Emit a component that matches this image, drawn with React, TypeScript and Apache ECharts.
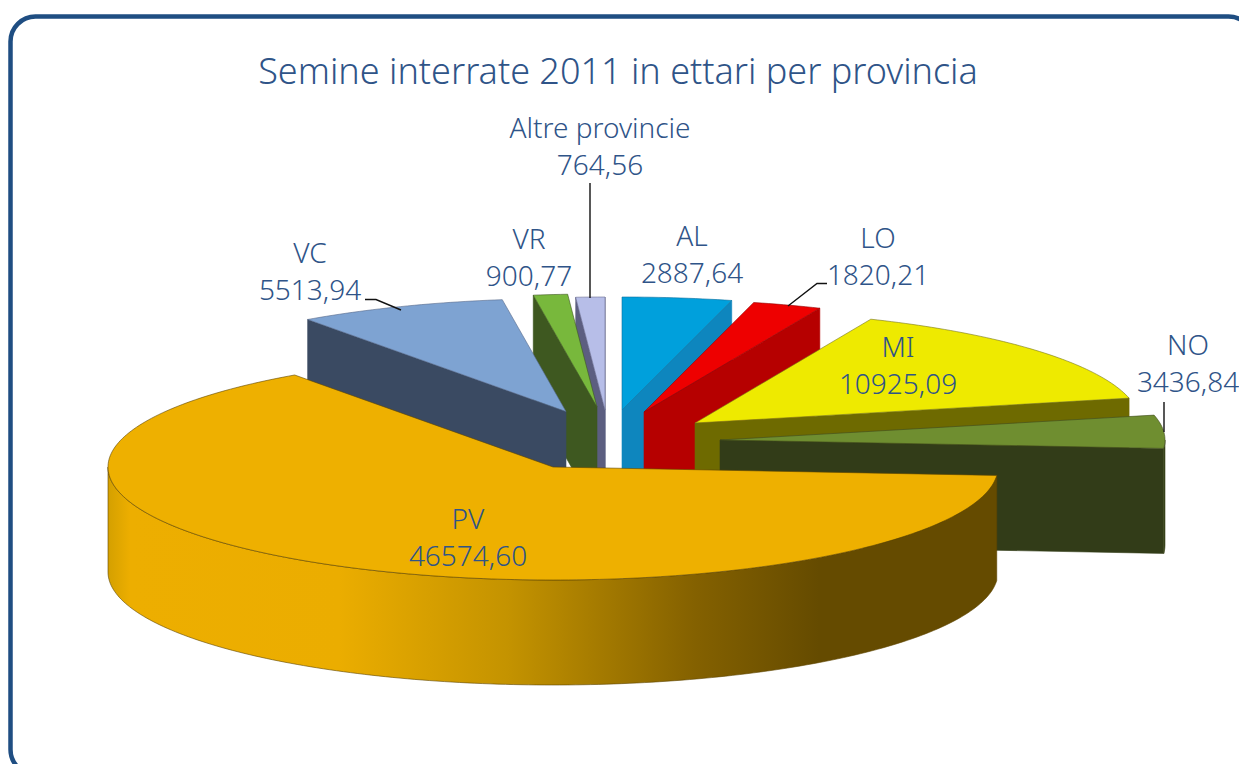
import React, { useEffect, useRef } from "react";
import * as echarts from "echarts";

// ---- data (clockwise from 12 o'clock) ----
const names = ["AL", "LO", "MI", "NO", "PV", "VC", "VR", "Altre provincie"];
const values = [2887.64, 1820.21, 10925.09, 3436.84, 46574.6, 5513.94, 900.77, 764.56];
const title = "Semine interrate 2011 in ettari per provincia";

// ---- styling / layout ----
const topColors = ["#00A0DC", "#EE0000", "#EEEA00", "#6F8E30", "#EEB000", "#7EA3D2", "#78B83C", "#B7BEE8"];
const wallColors = ["#0E86BE", "#B60000", "#6E6A00", "#323C18", "#8A6800", "#3A4A62", "#3E5820", "#5C5E80"];
const edgeColors = ["#0A6E9E", "#900000", "#77761A", "#3F4A1E", "#5E4500", "#55688A", "#3E5820", "#6A6C90"];
const explodeX = [16.4, 38.4, 89.4, 114.4, -52.6, -39.6, -8.6, -0.6];
const explodeY = [-33.5, -31.5, -20.5, -3.5, 23.5, -32, -36.5, -33.5];
const drawOrder = [0, 7, 6, 5, 1, 2, 3, 4];
const labelX = [692, 878, 898, 1188, 468, 310, 529, 600];
const labelY = [253, 255, 364, 362, 536, 270, 256, 145];
const leaders: number[][][] = [
  [],
  [[827, 283.5], [817, 283.5], [788, 306]],
  [],
  [[1164, 402], [1164, 432]],
  [],
  [[365, 299.5], [376, 299.5], [401, 310]],
  [],
  [[590, 183], [590, 298]],
];
const CX = 605.6;
const CY = 443.5;
const RX = 445;
const RY = 113;
const DEPTH = 105;
const FONT = '"Noto Sans", sans-serif';
const TEXT = "#2F5488";

const total = values.reduce((a, b) => a + b, 0);
const startDeg = values.map((_, i) => (values.slice(0, i).reduce((a, b) => a + b, 0) / total) * 360);

function rim(ax: number, ay: number, deg: number, drop = 0): number[] {
  const t = (deg * Math.PI) / 180;
  return [ax + RX * Math.sin(t), ay - RY * Math.cos(t) + drop];
}
function arc(ax: number, ay: number, from: number, to: number, drop = 0): number[][] {
  const n = Math.max(2, Math.ceil(to - from) + 1);
  const out: number[][] = [];
  for (let k = 0; k < n; k++) out.push(rim(ax, ay, from + ((to - from) * k) / (n - 1), drop));
  return out;
}

function renderSlice(_params: any, api: any) {
  const i = api.value(0);
  const v = api.value(1);
  const s = startDeg[i];
  const e = s + (v / total) * 360;
  const ax = CX + explodeX[i];
  const ay = CY + explodeY[i];
  const children: any[] = [];
  const wall = (pts: number[][], fill: any, stroke: string) => ({
    type: "polygon",
    shape: { points: pts },
    style: { fill, stroke, lineWidth: 0.6 },
  });
  const sinS = Math.sin((s * Math.PI) / 180);
  const sinE = Math.sin((e * Math.PI) / 180);
  if (sinS < 0) {
    const p = rim(ax, ay, s);
    children.push(wall([[ax, ay], p, [p[0], p[1] + DEPTH], [ax, ay + DEPTH]], wallColors[i], wallColors[i]));
  }
  if (sinE > 0) {
    const p = rim(ax, ay, e);
    children.push(wall([[ax, ay], p, [p[0], p[1] + DEPTH], [ax, ay + DEPTH]], wallColors[i], wallColors[i]));
  }
  const f = Math.max(s, 90);
  const t = Math.min(e, 270);
  if (t > f) {
    const pts = [...arc(ax, ay, f, t), ...arc(ax, ay, f, t, DEPTH).reverse()];
    const fill =
      i === 4
        ? new echarts.graphic.LinearGradient(0, 0, 1, 0, [
            { offset: 0, color: "#D4A000" },
            { offset: 0.025, color: "#EDAE00" },
            { offset: 0.26, color: "#EBAD00" },
            { offset: 0.45, color: "#C49300" },
            { offset: 0.66, color: "#846100" },
            { offset: 0.8, color: "#654B00" },
            { offset: 1, color: "#654B00" },
          ])
        : wallColors[i];
    children.push(wall(pts, fill, edgeColors[i]));
  }
  children.push({
    type: "polygon",
    shape: { points: [[ax, ay], ...arc(ax, ay, s, e)] },
    style: { fill: topColors[i], stroke: edgeColors[i], lineWidth: 0.6 },
  });
  return { type: "group", children };
}

function renderLabel(_params: any, api: any) {
  const i = api.value(0);
  const v = api.value(1);
  const children: any[] = [];
  if (leaders[i].length) {
    children.push({
      type: "polyline",
      shape: { points: leaders[i] },
      style: { stroke: "#111111", lineWidth: 1.4, fill: "none" },
    });
  }
  children.push({
    type: "text",
    x: labelX[i],
    y: labelY[i],
    style: {
      text: `${names[i]}\n${v.toFixed(2).replace(".", ",")}`,
      fill: TEXT,
      font: `300 28px ${FONT}`,
      lineHeight: 37,
      textAlign: "center",
      textVerticalAlign: "middle",
    },
  });
  return { type: "group", children };
}

export default function App() {
  const ref = useRef<HTMLDivElement>(null);
  useEffect(() => {
    const chart = echarts.init(ref.current!, undefined, { renderer: "svg" });
    const data = drawOrder.map((i) => [i, values[i]]);
    chart.setOption({
      animation: false,
      backgroundColor: "#FFFFFF",
      title: {
        text: title,
        left: 613,
        top: 47,
        textAlign: "center",
        textStyle: { color: TEXT, fontFamily: FONT, fontWeight: 300, fontSize: 36 },
      },
      graphic: [
        {
          type: "rect",
          shape: { x: 10.5, y: 16.5, width: 1243, height: 758, r: 25 },
          style: { fill: "none", stroke: "#1F4E82", lineWidth: 4.5 },
          silent: true,
        },
      ],
      series: [
        { type: "custom", coordinateSystem: "none", renderItem: renderSlice, data, z: 2, silent: true },
        { type: "custom", coordinateSystem: "none", renderItem: renderLabel, data, z: 3, silent: true },
      ],
    });
    return () => chart.dispose();
  }, []);
  return <div ref={ref} style={{ position: "fixed", left: 0, top: 0, width: 1239, height: 764 }} />;
}
